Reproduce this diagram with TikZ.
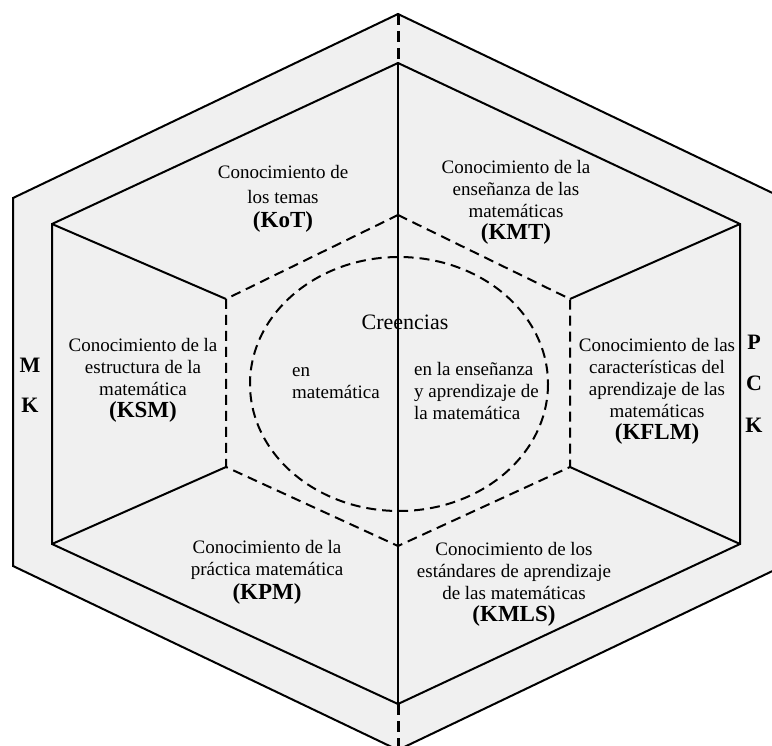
\documentclass[tikz,border=0pt]{standalone}
\usepackage{fontspec}
\setmainfont{Liberation Serif}
\usepackage{tikz}
\usetikzlibrary{positioning}

\definecolor{panel}{HTML}{F0F0F0}
\newcommand{\kcode}[1]{{\fontsize{23}{25}\selectfont\bfseries #1}}

\tikzset{
	wall/.style={line width=2pt, line join=miter},
	seam/.style={line width=2pt, dash pattern=on 10pt off 6pt},
	axis/.style={line width=3pt, dash pattern=on 11pt off 6pt},
	label/.style={align=center, inner sep=0pt, font=\fontsize{19}{22}\selectfont},
	leftlabel/.style={align=left, inner sep=0pt, font=\fontsize{19}{22}\selectfont},
	side/.style={inner sep=0pt, font=\fontsize{22}{24}\selectfont\bfseries}
}

\begin{document}
\begin{tikzpicture}[x=1pt, y=-1pt]
	\useasboundingbox (0,0) rectangle (772,746);
	% outer hexagon
	\coordinate (otop) at (398,14);
	\coordinate (oul) at (13,198);
	\coordinate (oll) at (13,566);
	\coordinate (obot) at (398,750);
	\coordinate (olr) at (783,566);
	\coordinate (our) at (783,198);
	% inner hexagon
	\coordinate (itop) at (398,63);
	\coordinate (iul) at (52,224);
	\coordinate (ill) at (52,544);
	\coordinate (ibot) at (398,704);
	\coordinate (ilr) at (740,544);
	\coordinate (iur) at (740,224);
	% dashed hexagon
	\coordinate (dtop) at (398,215);
	\coordinate (dul) at (226,299);
	\coordinate (dll) at (226,467);
	\coordinate (dbot) at (398,546);
	\coordinate (dlr) at (570,467);
	\coordinate (dur) at (570,299);
	\coordinate (core) at (399,384);

	\fill[panel] (otop) -- (our) -- (olr) -- (obot) -- (oll) -- (oul) -- cycle;
	\draw[wall] (otop) -- (our) -- (olr) -- (obot) -- (oll) -- (oul) -- cycle;
	\draw[wall] (itop) -- (iur) -- (ilr) -- (ibot) -- (ill) -- (iul) -- cycle;
	\draw[seam] (dtop) -- (dur) -- (dlr) -- (dbot) -- (dll) -- (dul) -- cycle;
	\draw[seam] (core) ellipse [x radius=149, y radius=127];
	\draw[wall] (iul) -- (dul);
	\draw[wall] (iur) -- (dur);
	\draw[wall] (ill) -- (dll);
	\draw[wall] (ilr) -- (dlr);
	\draw[wall] (itop) -- (ibot);
	\draw[axis] (otop) -- (itop);
	\draw[axis] (ibot) -- (obot);

	% labels
	\node[label] (kot) at (283,199) {Conocimiento de\\[3pt]los temas\\[2pt]\kcode{(KoT)}};
	\node[label] (kmt) at (516,202) {Conocimiento de la\\enseñanza de las\\matemáticas\\\kcode{(KMT)}};
	\node[label] (ksm) at (143,380) {Conocimiento de la\\estructura de la\\matemática\\\kcode{(KSM)}};
	\node[label] (kflm) at (657,391) {Conocimiento de las\\características del\\aprendizaje de las\\matemáticas\\\kcode{(KFLM)}};
	\node[label] (kpm) at (267,572) {Conocimiento de la\\práctica matemática\\[2pt]\kcode{(KPM)}};
	\node[label] (kmls) at (514,584) {Conocimiento de los\\estándares de aprendizaje\\de las matemáticas\\\kcode{(KMLS)}};
	\node[label, font=\fontsize{22}{24}\selectfont] (beliefs) at (405,322) {Creencias};
	\node[leftlabel, anchor=west] (bmath) at (292,383) {en\\matemática};
	\node[leftlabel, anchor=west] (bteach) at (414,391) {en la enseñanza\\y aprendizaje de\\la matemática};
	\node[side] (mkm) at (30,365) {M};
	\node[side] (mkk) at (30,405) {K};
	\node[side] (pckp) at (754,342) {P};
	\node[side] (pckc) at (754,383) {C};
	\node[side] (pckk) at (754,425) {K};
\end{tikzpicture}
\end{document}
